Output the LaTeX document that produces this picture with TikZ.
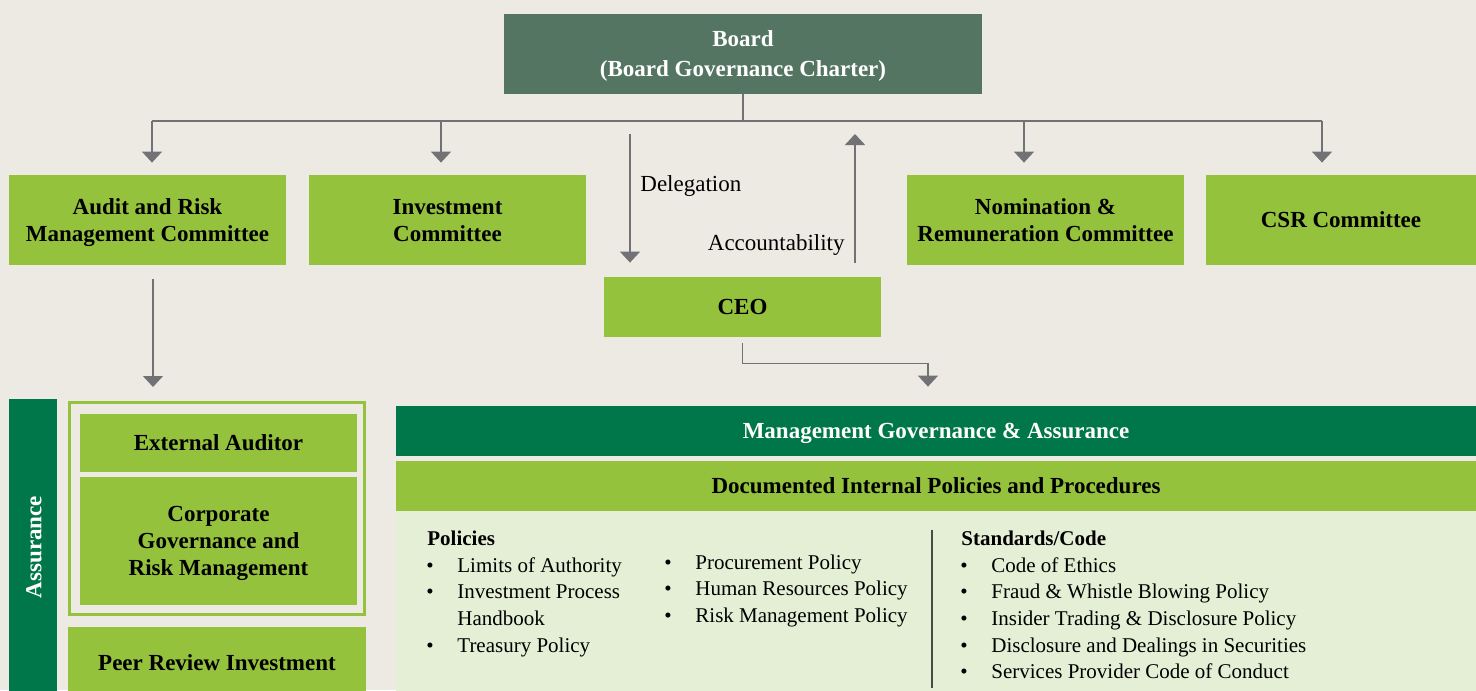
\documentclass[tikz,border=0pt]{standalone}
\usepackage{fontspec}
\setmainfont{Liberation Serif}
\usepackage{xcolor}
\usepackage{tikz}
\usetikzlibrary{
  positioning,
  arrows.meta,
  calc
}
\definecolor{pagebg}{HTML}{EDEAE3}
\definecolor{limegreen}{HTML}{95C23D}
\definecolor{deepgreen}{HTML}{00774A}
\definecolor{boardgreen}{HTML}{547562}
\definecolor{panelgreen}{HTML}{E5EFD6}
\definecolor{linegray}{HTML}{727276}
\definecolor{rulegray}{HTML}{4A4A4A}
\newcommand{\boxfont}{\fontsize{11.5}{13.5}\selectfont\bfseries}
\newcommand{\listfont}{\fontsize{10.5}{13}\selectfont}
\newcommand{\labelfont}{\fontsize{11.5}{13}\selectfont}
\tikzset{
  flowarrow/.style={-{Triangle[length=5.5pt,width=10pt]},draw=linegray,line width=0.75pt},
  connector/.style={draw=linegray,line width=0.75pt},
  topbox/.style={rectangle,fill=boardgreen,text=white,font=\boxfont,align=center,inner sep=0pt,text depth=0pt,minimum width=239pt,minimum height=40pt},
  limebox/.style={rectangle,fill=limegreen,text=black,font=\boxfont,align=center,inner sep=0pt,text depth=0pt,minimum width=138.5pt,minimum height=45pt},
  darkbar/.style={rectangle,fill=deepgreen,text=white,font=\boxfont,align=center,inner sep=0pt,text depth=0pt},
  bulletitem/.style={anchor=base west,font=\listfont,inner sep=0pt},
  dot/.style={anchor=base,font=\listfont,inner sep=0pt},
  heading/.style={anchor=base west,font=\listfont\bfseries,inner sep=0pt}
}
\begin{document}
\begin{tikzpicture}[x=0.5pt,y=-0.5pt]
    \useasboundingbox (0,0) rectangle (1476,690);
    \fill[pagebg] (0,0) rectangle (1476,690);

    % board and committees
    \node[topbox,font=\fontsize{11.5}{15}\selectfont\bfseries] (board) at (743,54) {Board\\(Board Governance Charter)};
    \node[limebox] (audit) at (147.5,220) {Audit and Risk\\Management Committee};
    \node[limebox] (invest) at (447.5,220) {Investment\\Committee};
    \node[limebox] (nomin) at (1045.5,220) {Nomination \&\\Remuneration Committee};
    \node[limebox,minimum width=135pt] (csr) at (1341,220) {CSR Committee};
    \node[limebox,minimum height=30pt] (ceo) at (742.5,307) {CEO};

    \draw[connector] (board.south) -- (743,121) coordinate (bus);
    \draw[connector] (152,121) -- (1322,121);
    \foreach \x/\tgt in {152/audit,441/invest,1024/nomin,1322/csr}
        \draw[flowarrow,shorten >=6pt] (\x,121) -- (\x,0 |- \tgt.north);

    \draw[flowarrow,shorten >=7pt] (630,134) -- (630,0 |- ceo.north);
    \draw[flowarrow,shorten <=7pt] (855,0 |- ceo.north) -- (855,134);
    \node[font=\labelfont,anchor=west,inner sep=0pt] (deleg) at (640,186) {Delegation};
    \node[font=\labelfont,anchor=east,inner sep=0pt] (account) at (845,245) {Accountability};

    % assurance column
    \node[darkbar,minimum width=24pt,minimum height=160pt] (assurbar) at (33,559) {};
    \node[rotate=90,text=white,font=\fontsize{11.5}{13}\selectfont\bfseries] (assurtxt) at (34,547) {Assurance};
    \draw[limegreen,line width=1.5pt] (69.5,402.5) rectangle (364.5,614.5);
    \coordinate (frametop) at (153,401);
    \node[limebox,minimum height=29pt] (extaud) at (218.5,443) {External Auditor};
    \node[limebox,minimum height=64pt] (corpgov) at (218.5,541) {Corporate\\Governance and\\Risk Management};
    \node[limebox,minimum width=149pt,minimum height=36pt] (peer) at (217,663) {Peer Review Investment};
    \draw[flowarrow,shorten <=7pt,shorten >=7pt] (153,0 |- audit.south) -- (frametop);

    % management governance
    \node[darkbar,minimum width=540pt,minimum height=25pt] (mga) at (936,431) {Management Governance \& Assurance};
    \node[limebox,minimum width=540pt,minimum height=25pt] (dipp) at (936,486) {Documented Internal Policies and Procedures};
    \fill[panelgreen] (396,511) rectangle (1476,700);
    \draw[flowarrow,shorten <=3pt,shorten >=9.5pt] (ceo.south) -- ++(0,26) -| (928,0 |- mga.north);

    \node[heading] (pol) at (427,545) {Policies};
    \foreach \y/\txt in {572/Limits of Authority,598/Investment Process,652/Treasury Policy}{
        \node[dot] at (430,\y) {\textbullet};
        \node[bulletitem] at (457,\y) {\txt};
    }
    \node[bulletitem] (handbook) at (457,625) {Handbook};
    \foreach \y/\txt in {569/Procurement Policy,595/Human Resources Policy,622/Risk Management Policy}{
        \node[dot] at (668,\y) {\textbullet};
        \node[bulletitem] at (695,\y) {\txt};
    }
    \draw[rulegray,line width=0.7pt] (932,530) -- (932,688);
    \node[heading] (std) at (961,545) {Standards/Code};
    \foreach \y/\txt in {572/Code of Ethics,598/Fraud \& Whistle Blowing Policy,625/Insider Trading \& Disclosure Policy,652/Disclosure and Dealings in Securities,678/Services Provider Code of Conduct}{
        \node[dot] at (964,\y) {\textbullet};
        \node[bulletitem] at (991,\y) {\txt};
    }
\end{tikzpicture}
\end{document}
